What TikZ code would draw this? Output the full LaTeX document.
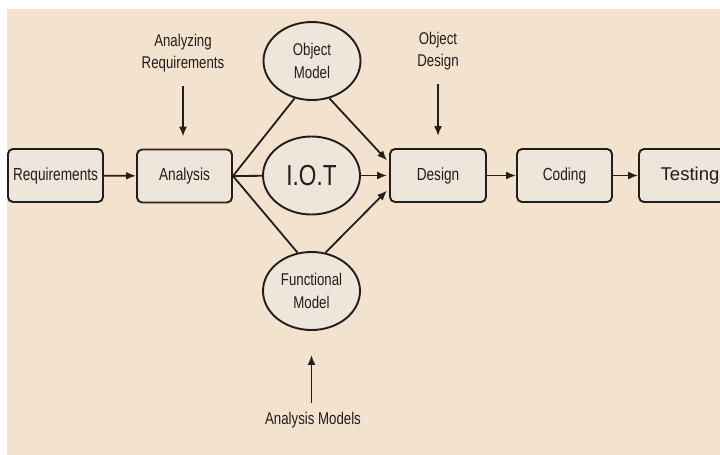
\documentclass[tikz,border=0pt]{standalone}
\usepackage{fontspec}
\usepackage{xcolor}
\usepackage{tikz}
\usetikzlibrary{calc, shapes, arrows.meta, positioning}
\setmainfont{Liberation Sans}
\newfontfamily\narrowsf[FakeStretch=0.78]{Liberation Sans}
\definecolor{paperBeige}{HTML}{F3E2CE}
\definecolor{boxFill}{HTML}{EEE5DB}
\definecolor{inkDark}{HTML}{221E1B}

\begin{document}
\begin{tikzpicture}[
    x=1pt, y=-1pt,
    every node/.style={text=inkDark},
    stage/.style={rectangle, draw=inkDark, line width=1.9pt, rounded corners=5pt, minimum height=53pt, minimum width=95pt, inner sep=0pt, fill=boxFill, font=\narrowsf\fontsize{17.5}{22}\selectfont},
    model/.style={ellipse, draw=inkDark, line width=1.9pt, minimum height=78pt, minimum width=97pt, inner sep=0pt, align=center, fill=boxFill, font=\narrowsf\fontsize{17}{23}\selectfont},
    note/.style={align=center, inner sep=0pt, font=\narrowsf\fontsize{17}{22}\selectfont},
    arrow/.style={-{Latex[length=10pt, width=8pt]}, line width=1.8pt, draw=inkDark},
    link/.style={line width=1.8pt, draw=inkDark}
]
\useasboundingbox (0,0) rectangle (720,455);
\clip (0,0) rectangle (720,455);
\fill[paperBeige] (7,9) rectangle (720,455);

% Nodes
\node[stage] (req) at (55.5,175.5) {Requirements};
\node[stage] (analysis) at (184.5,176) {Analysis};
\node[stage, minimum width=96pt] (design) at (438,175.5) {Design};
\node[stage] (coding) at (564.5,175.5) {Coding};
\node[stage, minimum width=102pt, font=\fontsize{18.5}{24}\selectfont] (testing) at (690,175.5) {Testing};

\node[model] (objmodel) at (312,61) {Object\\Model};
\node[model, font=\narrowsf\fontsize{29}{30}\selectfont] (iot) at (311.5,175.5) {I.O.T};
\node[model] (funcmodel) at (311.5,291) {Functional\\Model};

\node[note] (anreq) at (183,53) {Analyzing\\Requirements};
\node[note] (objdesign) at (438,51) {Object\\Design};
\node[note] (anmodels) at (313,420) {Analysis Models};

% Edges
\draw[arrow] (req) -- (analysis);
\draw[arrow] (design) -- (coding);
\draw[arrow] (coding) -- (testing);

\draw[link] (analysis.east) -- (objmodel.245);
\draw[link] (analysis.east) -- (iot);
\draw[link] (analysis.east) -- (funcmodel.110);

\draw[arrow] (objmodel.295) -- ([yshift=15pt, xshift=-2pt]design.west);
\draw[arrow] (iot) -- ([xshift=-2pt]design.west);
\draw[arrow] (funcmodel.70) -- ([yshift=-15pt, xshift=-2pt]design.west);

\draw[arrow, shorten <=14pt, shorten >=12pt] (anreq) -- (anreq |- analysis.north);
\draw[arrow, shorten <=14pt, shorten >=12pt] (objdesign) -- (design);
\draw[arrow, shorten <=9pt, shorten >=24pt] (anmodels.north -| funcmodel.south) -- (funcmodel);

\end{tikzpicture}
\end{document}
